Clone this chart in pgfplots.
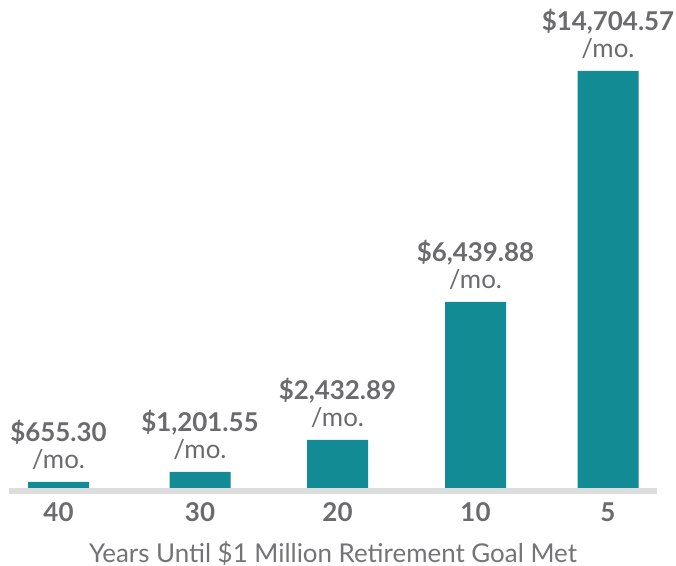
\documentclass[border=0pt]{standalone}
\usepackage{pgfplots}
\pgfplotsset{compat=1.18}
\usepackage{pgfplotstable}
\usepackage{fontspec}
\setmainfont{Lato}
\definecolor{barteal}{HTML}{138B94}
\definecolor{txtgray}{HTML}{6B6B6E}
\definecolor{lblgray}{HTML}{747476}
\definecolor{bandgray}{HTML}{DDDDDD}
\pgfplotstableread{
x y label
58.5 212 {\$655.30}
200 564 {\$1,201.55}
337.5 1693 {\$2,432.89}
475.5 6559 {\$6,439.88}
608 14705 {\$14,704.57}
}\datatable
\begin{document}
\begin{tikzpicture}
\begin{axis}[name=ax, scale only axis, width=648bp, height=494bp,
 xmin=9, xmax=657, ymin=-212, ymax=17207,
 ybar, bar width=61bp, bar shift=0pt,
 axis line style={draw=none}, major tick length=0pt, ytick=\empty,
 xtick={58.5,200,337.5,475.5,608}, xticklabels={40,30,20,10,5},
 xticklabel style={font=\fontsize{26}{30}\selectfont\bfseries, text=txtgray, anchor=base, yshift=-27bp},
 xlabel={Years Until \$1 Million Retirement Goal Met},
 xlabel style={at={(axis description cs:0.5,0)}, anchor=base, yshift=-68bp, font=\fontsize{26}{30}\selectfont, text=lblgray},
 nodes near coords={\textbf{\pgfplotspointmeta}\\/mo.},
 point meta=explicit symbolic,
 every node near coord/.append style={align=center, font=\fontsize{26}{27}\selectfont, text=txtgray, anchor=south, inner sep=0pt, yshift=12bp},
 clip=false]
\fill[bandgray] (axis cs:9,-212) rectangle (axis cs:657,0);
\addplot[fill=barteal, draw=none] table[x=x,y=y,meta=label]{\datatable};
\end{axis}
\pgfresetboundingbox
\path ([shift={(-9bp,-72bp)}]ax.south west) rectangle ([shift={(667bp,494bp)}]ax.south west);
\end{tikzpicture}
\end{document}
